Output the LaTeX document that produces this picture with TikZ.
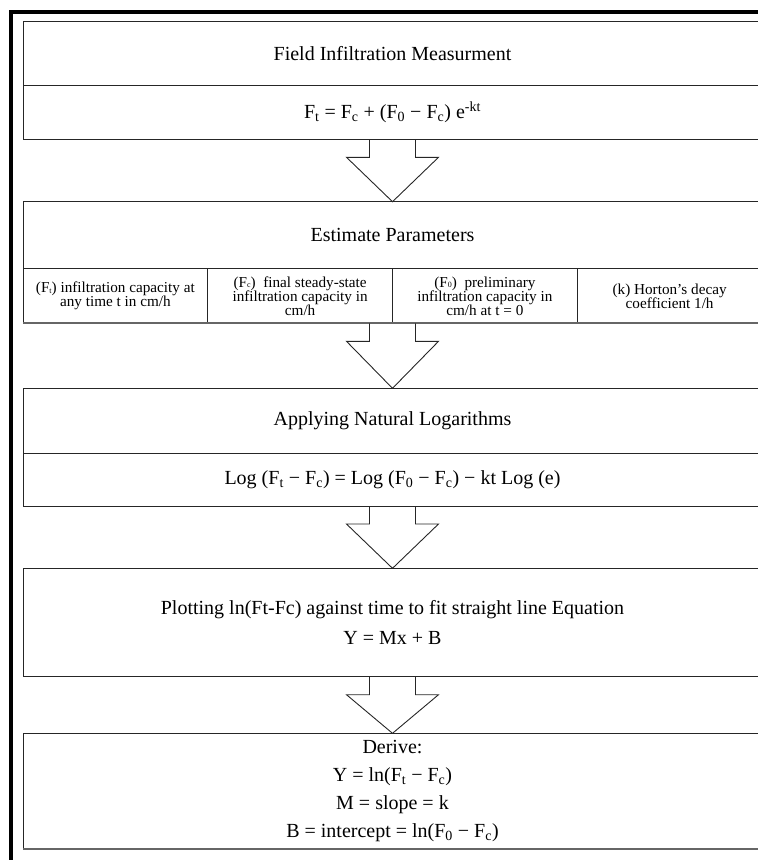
\documentclass[tikz,border=0pt]{standalone}
\usepackage{fontspec}
\setmainfont{Liberation Serif}
\usetikzlibrary{positioning,calc}

\newcommand{\cellfont}{\fontsize{15.2}{14}\selectfont\lineskiplimit=-20pt\relax}
\newcommand{\lowidx}[1]{\raisebox{-0.5pt}{\fontsize{8}{8}\selectfont #1}}

\tikzset{
  box/.style={draw=black!85, line width=0.9pt, outer sep=0pt, inner sep=0pt,
    minimum width=739pt, align=center, font=\fontsize{20}{24}\selectfont},
  cell/.style={draw=black!85, line width=0.9pt, outer sep=0pt, inner sep=0pt,
    minimum width=184.75pt, minimum height=55pt, align=center, font=\cellfont},
  blockarrow/.style={draw=black!85, line width=0.9pt, line join=miter},
  bottomline/.style={draw=black!60, line width=1.8pt},
  frameline/.style={line width=3.6pt}
}

\newcommand{\flowarrow}[2]{%
  \draw[blockarrow] ($(#1)+(-23,0)$) -- ++(0,18) -- ++(-23,0) -- (#2)
    -- ($(#1)+(46,18)$) -- ++(-23,0) -- ++(0,-18);}

\begin{document}
\begin{tikzpicture}[x=1pt, y=-1pt]
\useasboundingbox (0,0) rectangle (758,860);
\clip (0,0) rectangle (758,860);
% page frame
\draw[frameline] (10.7,860) -- (10.7,12) -- (758,12);

\node[box, minimum height=63.3pt, anchor=north west] (field) at (23,21.7) {Field Infiltration Measurment};
\node[box, minimum height=54.3pt, below=0pt of field] (fieldeq) {F\textsubscript{t} = F\textsubscript{c} + (F\textsubscript{0} − F\textsubscript{c}) e\textsuperscript{-kt}};

\node[box, minimum height=66.6pt, anchor=north west] (estimate) at (23,201.7) {Estimate Parameters};
\node[cell, anchor=north west] (cellFt) at (estimate.south west) {(F\lowidx{t}) infiltration capacity at\\any time t in cm/h};
\node[cell, right=0pt of cellFt] (cellFc) {(F\lowidx{c})\ \ final steady-state\\infiltration capacity in\\cm/h};
\node[cell, right=0pt of cellFc] (cellFo) {(F\lowidx{0})\ \ preliminary\\infiltration capacity in\\cm/h at t = 0};
\node[cell, right=0pt of cellFo] (cellk) {(k) Horton’s decay\\coefficient 1/h};

\node[box, minimum height=65pt, anchor=north west] (logs) at (23,388.3) {Applying Natural Logarithms};
\node[box, minimum height=52.7pt, below=0pt of logs] (logeq) {Log (F\textsubscript{t} − F\textsubscript{c}) = Log (F\textsubscript{0} − F\textsubscript{c}) − kt Log (e)};

\node[box, minimum height=108.4pt, font=\fontsize{20}{30.7}\selectfont, anchor=north west] (plotting) at (23,568.3) {Plotting ln(Ft-Fc) against time to fit straight line Equation\\Y = Mx + B};

\node[box, minimum height=116pt, font=\fontsize{20}{28}\selectfont, anchor=north west] (derive) at (23,733.3) {Derive:\\Y = ln(F\textsubscript{t} − F\textsubscript{c})\\M = slope = k\\B = intercept = ln(F\textsubscript{0} − F\textsubscript{c})};

\draw[bottomline] (cellFt.south west) -- (cellk.south east);
\draw[bottomline] (derive.south west) -- (derive.south east);

\flowarrow{fieldeq.south}{estimate.north}
\flowarrow{cellFc.south east}{logs.north}
\flowarrow{logeq.south}{plotting.north}
\flowarrow{plotting.south}{derive.north}
\end{tikzpicture}
\end{document}
